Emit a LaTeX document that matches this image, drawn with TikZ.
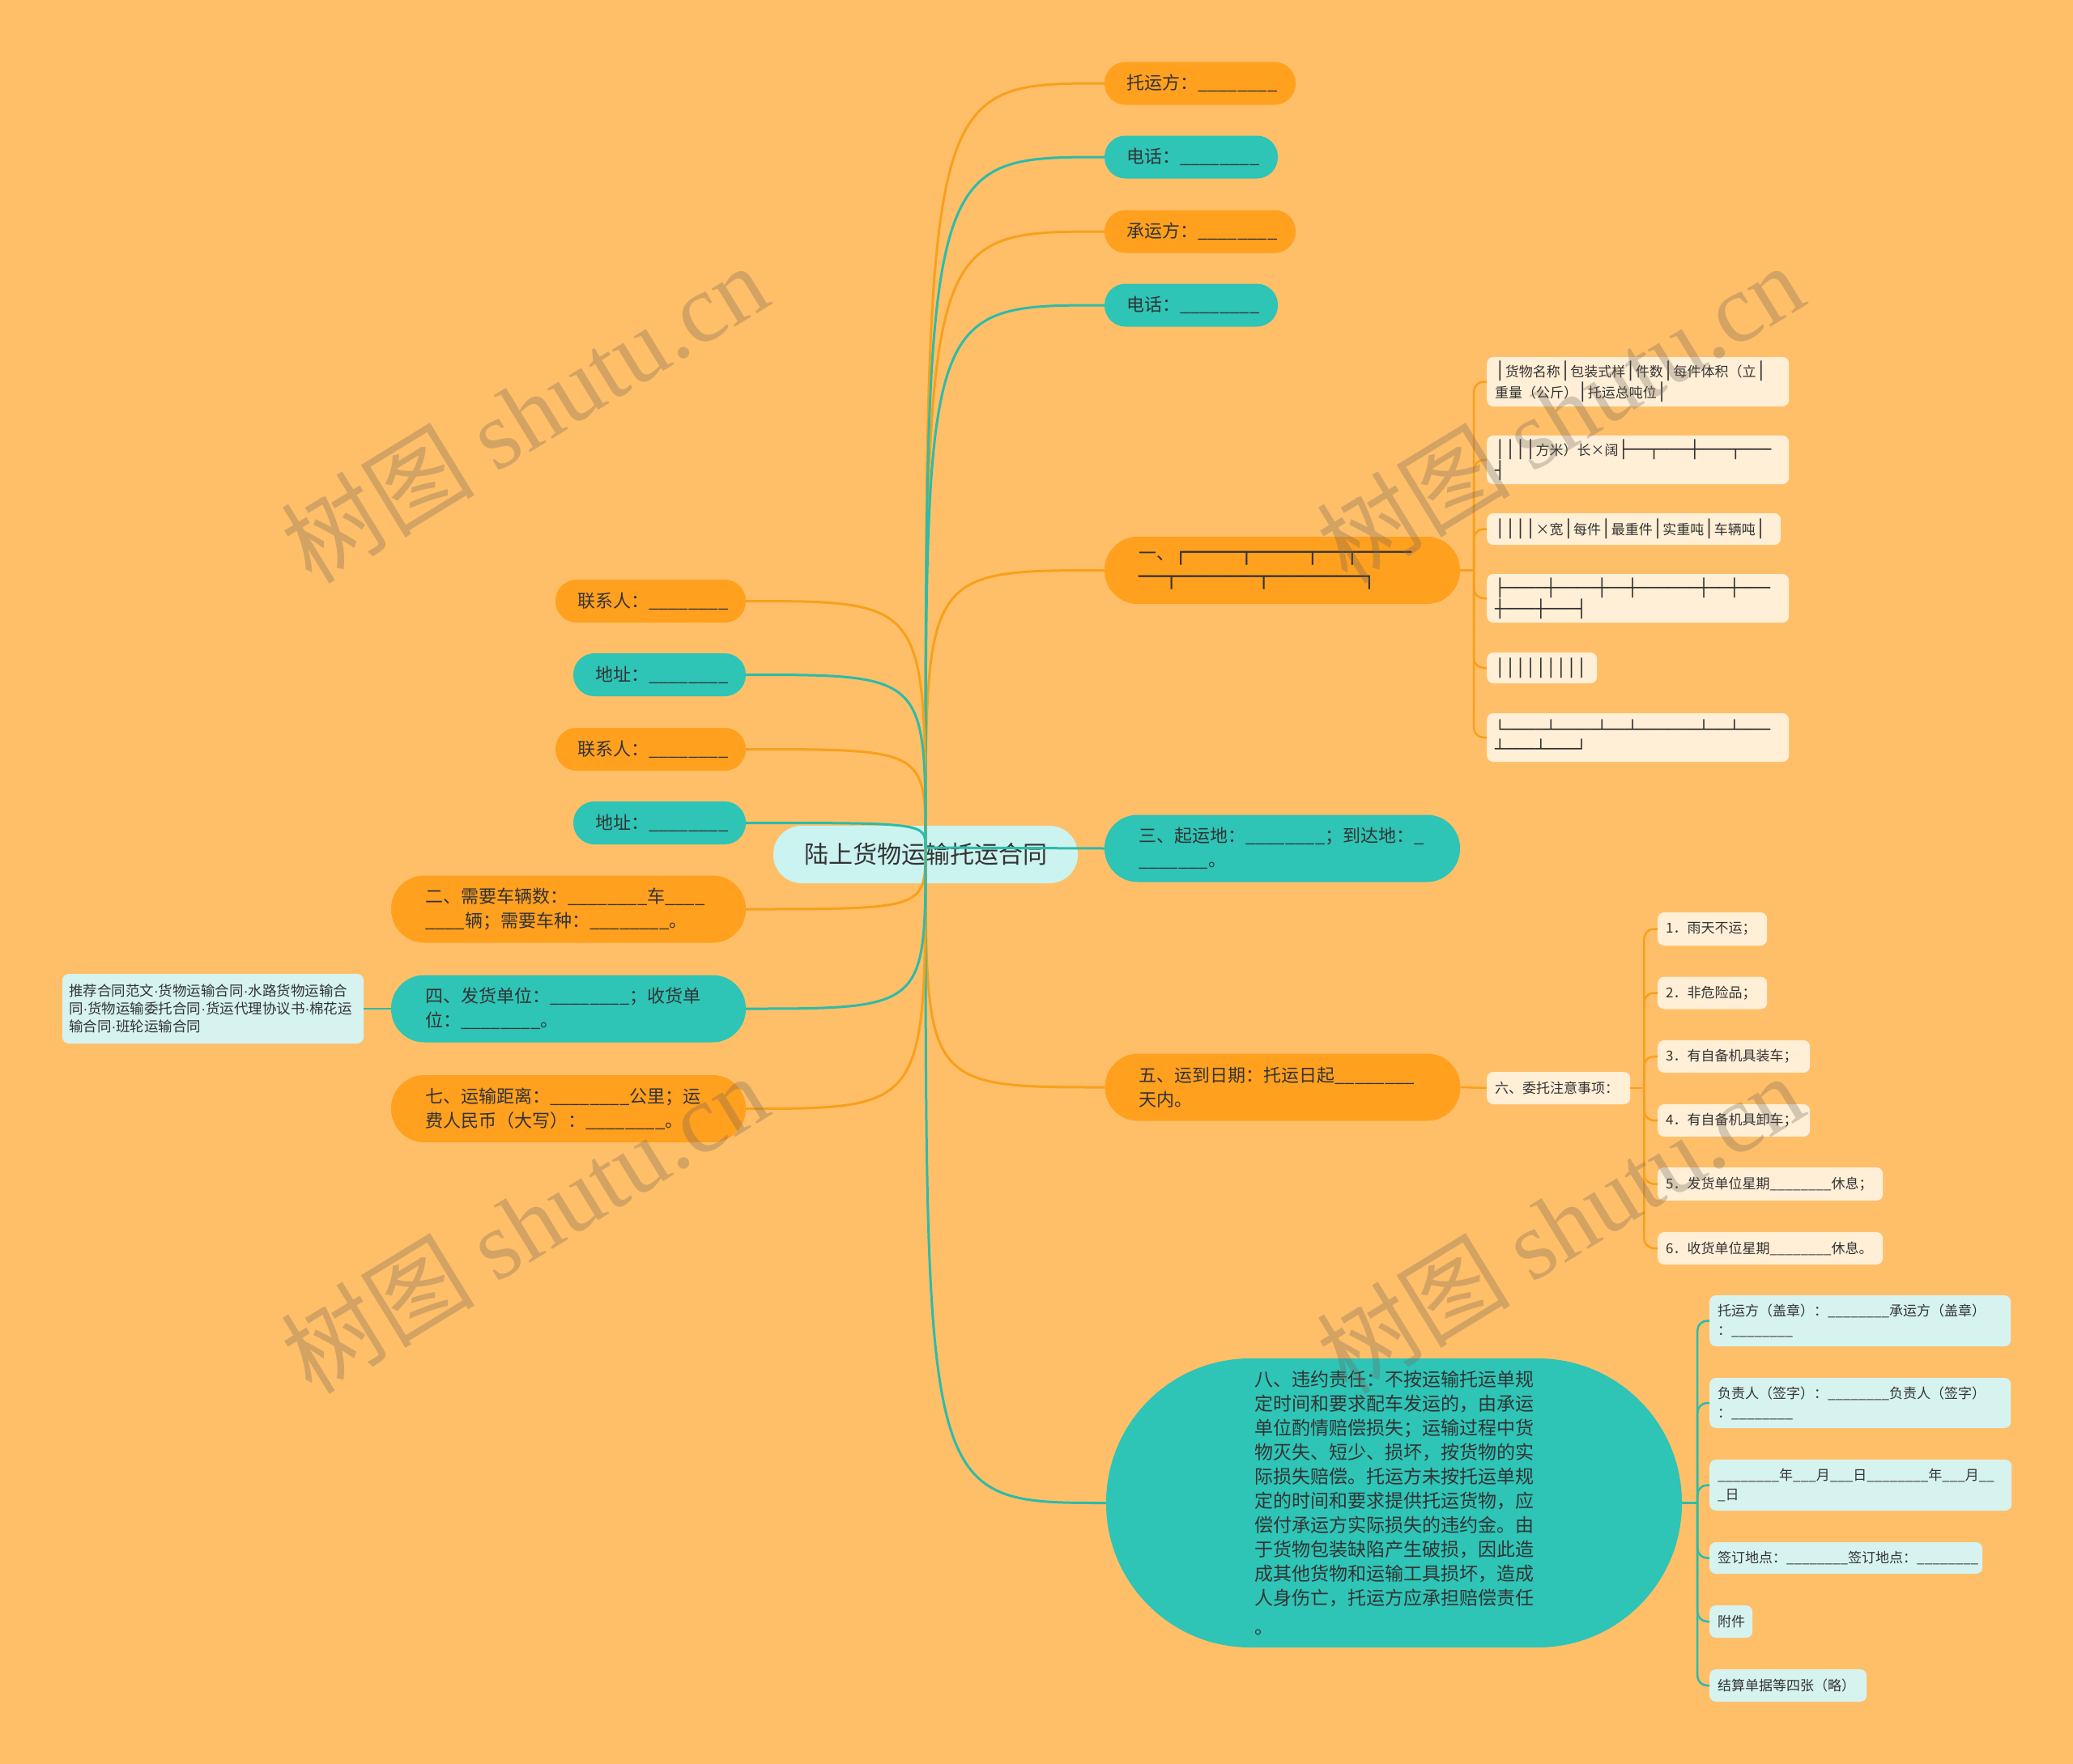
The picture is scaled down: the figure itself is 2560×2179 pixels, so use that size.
\documentclass[tikz,border=0pt]{standalone}
\usepackage{fontspec}
\setmainfont{Noto Sans CJK SC}
\newfontfamily\boxfont[Scale=1.23]{DejaVu Sans Mono}
\newfontfamily\wmfont{Liberation Serif}
\newfontfamily\latinfont{Liberation Sans}
\usetikzlibrary{calc}

\definecolor{bgorange}{HTML}{FFBF69}
\definecolor{topicorange}{HTML}{FFA01F}
\definecolor{topicteal}{HTML}{2EC4B6}
\definecolor{rootcyan}{HTML}{CBF3F0}
\definecolor{leafcream}{HTML}{FFEFD6}
\definecolor{leafcyan}{HTML}{D6F3F0}
\definecolor{lineorange}{HTML}{F8A01C}
\definecolor{lineteal}{HTML}{2EBBA9}
\definecolor{textgray}{HTML}{333333}
\definecolor{wmgray}{RGB}{110,100,90}

\newcommand\fsroot{\fontsize{30}{36}\selectfont}
\newcommand\fsmain{\fontsize{22}{30}\selectfont}
\newcommand\fsba{\fontsize{23}{30}\selectfont}
\newcommand\fsleaf{\fontsize{17}{24}\selectfont}
\newcommand\fswm{\fontsize{120}{120}\selectfont}
\newcommand\bx[1]{{\boxfont #1}}
\newcommand\vb{{\boxfont │}}
\newcommand\md{{\latinfont ·}}
\newcommand\blank{\_\_\_\_\_\_\_\_}

\begin{document}
\begin{tikzpicture}[x=1pt, y=-1pt,
    rootnode/.style = {fill=rootcyan, rounded corners=35pt, minimum width=376, minimum height=71, inner sep=0pt, font=\fsroot, text=textgray},
    pill/.style = {rounded corners=26pt, minimum height=53, inner xsep=27, inner ysep=0, align=left, font=\fsmain, text=textgray},
    pillo/.style = {pill, fill=topicorange},
    pillt/.style = {pill, fill=topicteal},
    twoline/.style = {rounded corners=41pt, minimum height=83, inner xsep=42, text width=355},
    leafbox/.style = {rounded corners=8pt, inner xsep=10, inner ysep=0, align=left, font=\fsleaf, text=textgray, anchor=west},
    creambox/.style = {leafbox, fill=leafcream},
    icebox/.style = {leafbox, fill=leafcyan},
    oline/.style = {draw=lineorange, line width=3},
    tline/.style = {draw=lineteal, line width=3},
    obranch/.style = {draw=lineorange, line width=2.5, rounded corners=12},
    tbranch/.style = {draw=lineteal, line width=2.5, rounded corners=12},
    wmark/.style = {text=wmgray, text opacity=0.3, font=\fswm, inner sep=0pt}]
    % Background
    \fill[bgorange] (0,0) rectangle (2560,2179);
    \useasboundingbox (0,0) rectangle (2560,2179);

    % Nodes
    \node[rootnode] (root) at (1143,1055.5) {陆上货物运输托运合同};
    \coordinate (hub) at (1143,1047);

    \node[pillo, text width=182] (ty) at (1482,103) {托运方：\blank};
    \node[pillt, text width=160] (tela) at (1471,194) {电话：\blank};
    \node[pillo, text width=182] (cy) at (1482,286) {承运方：\blank};
    \node[pillt, text width=160] (telb) at (1471,377) {电话：\blank};
    \node[pillo, twoline] (yi) at (1583.5,704.5) {一、\bx{┌────┬────┬──┬────}\\\bx{──┬──────┬───────┐}};
    \node[pillt, twoline] (san) at (1583.5,1048) {三、起运地：\blank ；到达地：\_\\\_\_\_\_\_\_\_。};
    \node[pillo, twoline] (wu) at (1584,1343) {五、运到日期：托运日起\blank\\天内。};
    \node[fill=topicteal, rounded corners=178pt, minimum width=711, minimum height=357, text width=345, align=left, font=\fsba, text=textgray] (ba) at (1721.5,1856.5)
      {八、违约责任：不按运输托运单规\\定时间和要求配车发运的，由承运\\单位酌情赔偿损失；运输过程中货\\物灭失、短少、损坏，按货物的实\\际损失赔偿。托运方未按托运单规\\定的时间和要求提供托运货物，应\\偿付承运方实际损失的违约金。由\\于货物包装缺陷产生破损，因此造\\成其他货物和运输工具损坏，造成\\人身伤亡，托运方应承担赔偿责任\\[6pt]。};

    \node[pillo, text width=181] (lxa) at (803.5,742.5) {联系人：\blank};
    \node[pillt, text width=159] (dza) at (814.5,833.5) {地址：\blank};
    \node[pillo, text width=181] (lxb) at (803.5,925.5) {联系人：\blank};
    \node[pillt, text width=159] (dzb) at (814.5,1016.5) {地址：\blank};
    \node[pillo, twoline, text width=354] (er) at (702,1123) {二、需要车辆数：\blank 车\_\_\_\_\\\_\_\_\_辆；需要车种：\blank 。};
    \node[pillt, twoline, text width=354] (si) at (702,1246) {四、发货单位：\blank ；收货单\\位：\blank 。};
    \node[pillo, twoline, text width=354] (qi) at (702,1369.5) {七、运输距离：\blank 公里；运\\费人民币（大写）：\blank 。};
    \node[icebox, anchor=center, text width=356, inner xsep=8, minimum height=86, font=\fontsize{17.5}{22}\selectfont] (tj) at (263,1246)
      {推荐合同范文\md 货物运输合同\md 水路货物运输合\\同\md 货物运输委托合同\md 货运代理协议书\md 棉花运\\输合同\md 班轮运输合同};

    % table rows under 一
    \node[creambox, text width=353, minimum height=61] (ca) at (1836,471.5) {\vb 货物名称\vb 包装式样\vb 件数\vb 每件体积（立\vb\\重量（公斤）\vb 托运总吨位\vb};
    \node[creambox, text width=353, minimum height=60] (cb) at (1836,568) {\bx{││││}方米）长×阔\bx{├──┬───┼───┬───}\\\bx{┤}};
    \node[creambox, text width=343, minimum height=39] (cc) at (1836,653.5) {\bx{││││}×宽\vb 每件\vb 最重件\vb 实重吨\vb 车辆吨\vb};
    \node[creambox, text width=353, minimum height=60] (cd) at (1836,739) {\bx{├────┼────┼──┼──────┼──┼───}\\\bx{┼───┼───┤}};
    \node[creambox, text width=116, minimum height=38] (ce) at (1836,825) {\bx{│││││││││}};
    \node[creambox, text width=353, minimum height=60] (cf) at (1836,911) {\bx{└────┴────┴──┴──────┴──┴───}\\\bx{┴───┴───┘}};

    % notes under 五
    \node[creambox, text width=157, minimum height=40] (liu) at (1836,1344) {六、委托注意事项：};
    \node[creambox, text width=115, minimum height=41] (la) at (2047,1147.5) {1．雨天不运；};
    \node[creambox, text width=115, minimum height=40] (lb) at (2047,1226.5) {2．非危险品；};
    \node[creambox, text width=168, minimum height=40] (lc) at (2047,1305) {3．有自备机具装车；};
    \node[creambox, text width=168, minimum height=40] (ld) at (2047,1384) {4．有自备机具卸车；};
    \node[creambox, text width=258, minimum height=41] (le) at (2047,1462.5) {5．发货单位星期\blank 休息；};
    \node[creambox, text width=258, minimum height=40] (lf) at (2047,1542) {6．收货单位星期\blank 休息。};

    % signatures under 八
    \node[icebox, text width=352, minimum height=63] (ba1) at (2111,1631.5) {托运方（盖章）：\blank 承运方（盖章）\\：\blank};
    \node[icebox, text width=352, minimum height=62] (ba2) at (2111,1733) {负责人（签字）：\blank 负责人（签字）\\：\blank};
    \node[icebox, text width=353, minimum height=63] (ba3) at (2111,1834.5) {\blank 年\_\_\_月\_\_\_日\blank 年\_\_\_月\_\_\\\_日};
    \node[icebox, text width=317, minimum height=39] (ba4) at (2111,1924.5) {签订地点：\blank 签订地点：\blank};
    \node[icebox, text width=33, minimum height=40] (ba5) at (2111,2003) {附件};
    \node[icebox, text width=174, minimum height=40] (ba6) at (2111,2082) {结算单据等四张（略）};

    % Edges
    \foreach \n in {ty,cy,yi,wu}
      \draw[oline] (hub) .. controls (hub |- \n.west) .. (\n.west);
    \foreach \n in {tela,telb,ba}
      \draw[tline] (hub) .. controls (hub |- \n.west) .. (\n.west);
    \draw[tline] (hub) -- (san.west);
    \foreach \n in {lxa,lxb,er,qi}
      \draw[oline] (hub) .. controls (hub |- \n.east) .. (\n.east);
    \foreach \n in {dza,dzb,si}
      \draw[tline] (hub) .. controls (hub |- \n.east) .. (\n.east);
    \draw[tline, line width=2.5] (si.west) -- (tj.east);

    \draw[obranch] (yi.east) -- ++(17,0) coordinate (yij);
    \foreach \n in {ca,cb,cc,cd,ce,cf}
      \draw[obranch] (yij) |- (\n.west);

    \draw[obranch] (wu.east) -- (liu.west);
    \draw[obranch] (liu.east) -- ++(17,0) coordinate (liuj);
    \foreach \n in {la,lb,lc,ld,le,lf}
      \draw[obranch] (liuj) |- (\n.west);

    \draw[tbranch] (ba.east) -- ++(19,0) coordinate (baj);
    \foreach \n in {ba1,ba2,ba3,ba4,ba5,ba6}
      \draw[tbranch] (baj) |- (\n.west);

    % Watermarks
    \node[wmark, rotate=31.5] (wma) at (647,510) {树图 {\wmfont shutu.cn}};
    \node[wmark, rotate=31.5] (wmb) at (1926,510) {树图 {\wmfont shutu.cn}};
    \node[wmark, rotate=31.5] (wmc) at (647,1511) {树图 {\wmfont shutu.cn}};
    \node[wmark, rotate=31.5] (wmd) at (1926,1511) {树图 {\wmfont shutu.cn}};
\end{tikzpicture}
\end{document}
